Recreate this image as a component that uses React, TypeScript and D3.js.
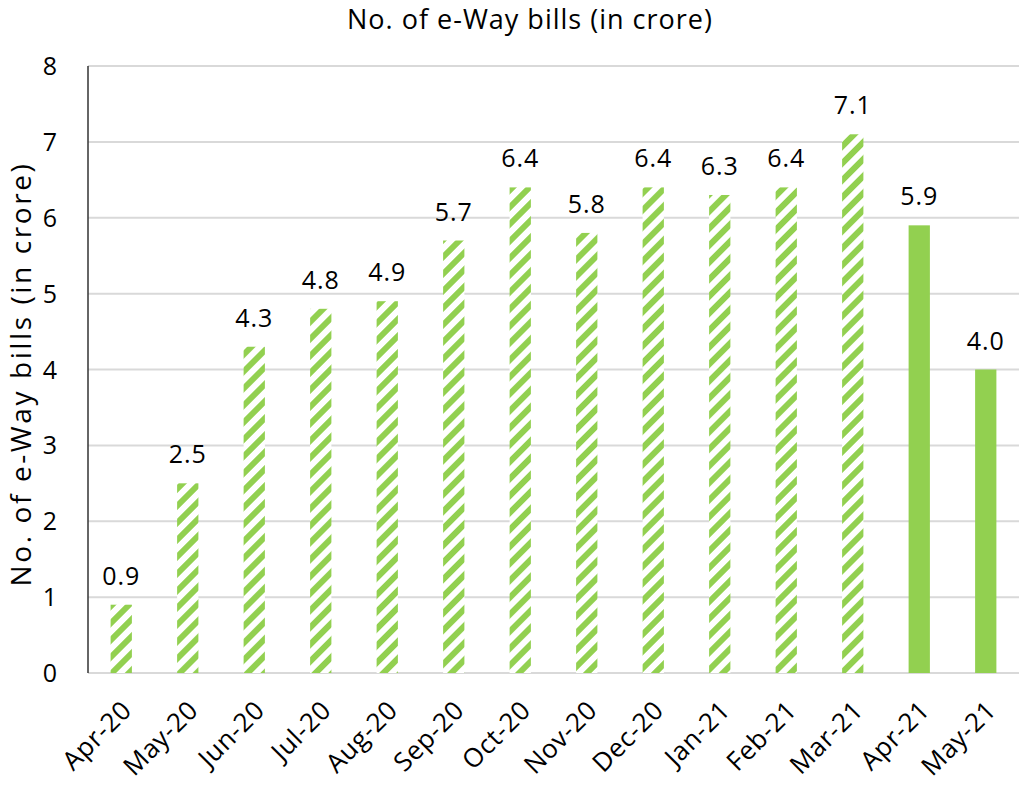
import React from "react";
import * as d3 from "d3";

const months = ["Apr-20", "May-20", "Jun-20", "Jul-20", "Aug-20", "Sep-20", "Oct-20", "Nov-20", "Dec-20", "Jan-21", "Feb-21", "Mar-21", "Apr-21", "May-21"];
const bills = [0.9, 2.5, 4.3, 4.8, 4.9, 5.7, 6.4, 5.8, 6.4, 6.3, 6.4, 7.1, 5.9, 4.0];
const hatched = [true, true, true, true, true, true, true, true, true, true, true, true, false, false];
const yTicks = [0, 1, 2, 3, 4, 5, 6, 7, 8];

const W = 1024;
const H = 786;
const margin = { left: 88, right: 5, top: 66, bottom: 113 };
const GREEN = "#92d050";
const FONT = "'Open Sans', Lato, sans-serif";

export default function App() {
  const x = d3
    .scaleBand<string>()
    .domain(months)
    .range([margin.left, W - margin.right])
    .paddingInner(0.68)
    .paddingOuter(0.34);
  const y = d3.scaleLinear().domain([0, 8]).range([H - margin.bottom, margin.top]);

  return (
    <svg width={W} height={H} style={{ position: "absolute", left: 0, top: 0 }} fontFamily={FONT}>
      <defs>
        <pattern id="hatch" patternUnits="userSpaceOnUse" width="12" height="12" patternTransform="rotate(45)">
          <rect width="12" height="12" fill="#fff" />
          <rect width="6" height="12" fill={GREEN} />
        </pattern>
      </defs>
      <rect width={W} height={H} fill="#fff" />
      <text x={530} y={29} textAnchor="middle" fontSize={27} letterSpacing={1} fill="#000">
        No. of e-Way bills (in crore)
      </text>
      {yTicks.map((t) => (
        <g key={t}>
          <line x1={margin.left} x2={W - margin.right} y1={y(t)} y2={y(t)} stroke="#d9d9d9" strokeWidth={2} />
          <text x={50} y={y(t)} dy="0.36em" textAnchor="middle" fontSize={25} fill="#000">
            {t}
          </text>
        </g>
      ))}
      <line x1={margin.left} x2={margin.left} y1={y(8)} y2={y(0)} stroke="#333" strokeWidth={1.5} />
      <text
        transform={`translate(31, 374) rotate(-90)`}
        textAnchor="middle"
        fontSize={28}
        letterSpacing={2.6}
        fill="#000"
      >
        No. of e-Way bills (in crore)
      </text>
      {months.map((m, i) => {
        const bx = x(m) as number;
        const bw = x.bandwidth();
        const cx = bx + bw / 2;
        return (
          <g key={m}>
            <rect
              x={bx}
              y={y(bills[i])}
              width={bw}
              height={y(0) - y(bills[i])}
              fill={hatched[i] ? "url(#hatch)" : GREEN}
            />
            <text x={cx} y={y(bills[i]) - 20} textAnchor="middle" fontSize={25} letterSpacing={1} fill="#000">
              {bills[i].toFixed(1)}
            </text>
            <text
              transform={`translate(${cx - 1}, ${y(0) + 26}) rotate(-45)`}
              textAnchor="end"
              dy="0.7em"
              fontSize={26}
              letterSpacing={0.6}
              fill="#000"
            >
              {m}
            </text>
          </g>
        );
      })}
    </svg>
  );
}
